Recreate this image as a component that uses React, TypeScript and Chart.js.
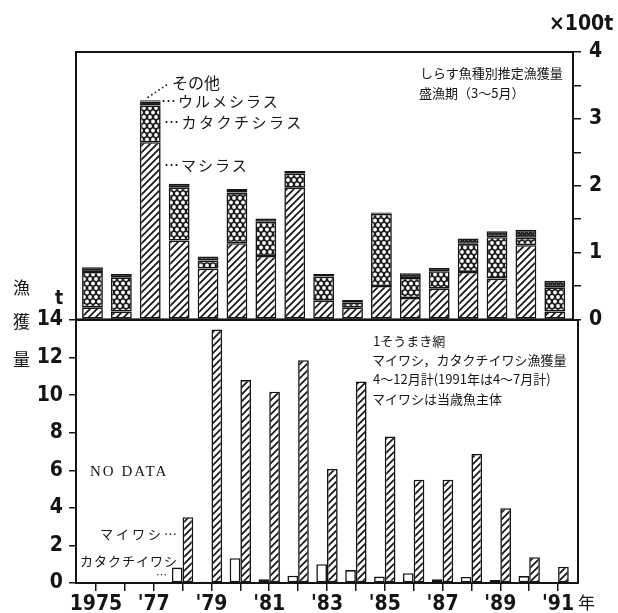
import React, { useEffect, useRef } from 'react';
import { Chart, registerables } from 'chart.js';

Chart.register(...registerables);

// ---- data ----
const years = [1975, 1976, 1977, 1978, 1979, 1980, 1981, 1982, 1983, 1984, 1985, 1986, 1987, 1988, 1989, 1990, 1991];

// 上段: しらす魚種別推定漁獲量 盛漁期（3～5月） (×100t)
const mashirasu = [0.18, 0.12, 2.65, 1.18, 0.76, 1.14, 0.95, 1.97, 0.28, 0.18, 0.5, 0.32, 0.46, 0.71, 0.61, 1.11, 0.12];
const katakuchiShirasu = [0.53, 0.51, 0.55, 0.79, 0.12, 0.75, 0.51, 0.21, 0.36, 0.07, 1.08, 0.3, 0.26, 0.42, 0.62, 0.11, 0.36];
const urumeShirasu = [0.07, 0.05, 0.06, 0.06, 0.06, 0.01, 0.05, 0.04, 0.04, 0.04, 0.02, 0.07, 0.05, 0.08, 0.09, 0.12, 0.1];
const sonota = [null, null, 0.02, null, null, 0.05, null, null, null, null, null, null, null, null, null, null, null];

// 下段: 1そうまき網 マイワシ・カタクチイワシ漁獲量 (t)
const katakuchiIwashi = [null, null, null, 0.82, 0.07, 1.32, 0.2, 0.39, 1.0, 0.69, 0.34, 0.52, 0.2, 0.32, 0.16, 0.37, 0.03];
const maiwashi = [null, null, null, 3.5, 13.5, 10.8, 10.18, 11.86, 6.07, 10.73, 7.8, 5.5, 5.5, 6.87, 3.98, 1.37, 0.87];

const xTickYears = [1975, 1977, 1979, 1981, 1983, 1985, 1987, 1989, 1991];
const xTickTexts = ['1975', "'77", "'79", "'81", "'83", "'85", "'87", "'89", "'91"];

const NARROW = "'Liberation Sans Narrow', 'DejaVu Sans Condensed', 'Arial Narrow', sans-serif";
const JP = "'Noto Sans CJK JP', sans-serif";
const INK = '#151515';

function hatchPattern(): CanvasPattern | string {
  const s = 7;
  const c = document.createElement('canvas');
  c.width = s; c.height = s;
  const g = c.getContext('2d');
  if (!g) return '#999';
  g.fillStyle = '#fff';
  g.fillRect(0, 0, s, s);
  g.strokeStyle = INK;
  g.lineWidth = 1.7;
  g.beginPath();
  g.moveTo(-1, s + 1); g.lineTo(s + 1, -1);
  g.moveTo(-s / 2 - 1, s / 2 + 1); g.lineTo(s / 2 + 1, -s / 2 - 1);
  g.moveTo(s / 2 - 1, s * 1.5 + 1); g.lineTo(s * 1.5 + 1, s / 2 - 1);
  g.stroke();
  return g.createPattern(c, 'repeat') || '#999';
}

function circlePattern(): CanvasPattern | string {
  const w = 6, h = 9;
  const c = document.createElement('canvas');
  c.width = w; c.height = h;
  const g = c.getContext('2d');
  if (!g) return '#777';
  g.fillStyle = '#1c1c1c';
  g.fillRect(0, 0, w, h);
  g.fillStyle = '#fff';
  const pts = [[0, 0], [w, 0], [0, h], [w, h], [w / 2, h / 2]];
  for (const [px, py] of pts) {
    g.beginPath();
    g.arc(px, py, 1.9, 0, Math.PI * 2);
    g.fill();
  }
  return g.createPattern(c, 'repeat') || '#777';
}

function darkPattern(): CanvasPattern | string {
  const s = 4;
  const c = document.createElement('canvas');
  c.width = s; c.height = s;
  const g = c.getContext('2d');
  if (!g) return '#333';
  g.fillStyle = '#222';
  g.fillRect(0, 0, s, s);
  g.fillStyle = '#7a7a7a';
  g.fillRect(0, 0, 1, 1);
  g.fillRect(2, 2, 1, 1);
  return g.createPattern(c, 'repeat') || '#333';
}

const framePlugin = {
  id: 'frame',
  afterDraw(chart: any) {
    const { ctx, chartArea } = chart;
    const { left, top, right, bottom } = chartArea;
    ctx.save();
    ctx.strokeStyle = INK;
    ctx.lineWidth = 2;
    ctx.strokeRect(left, top, right - left, bottom - top);
    ctx.restore();
  },
};

const leaderPlugin = {
  id: 'leader',
  afterDraw(chart: any) {
    const xs = chart.scales.x;
    const ys = chart.scales.y;
    const i = years.indexOf(1977);
    const total = (mashirasu[i] || 0) + (katakuchiShirasu[i] || 0) + (urumeShirasu[i] || 0) + (sonota[i] || 0);
    const cx = xs.getPixelForValue(1977);
    const cy = ys.getPixelForValue(total);
    const ctx = chart.ctx;
    ctx.save();
    ctx.fillStyle = INK;
    for (let k = 0; k < 6; k++) {
      ctx.beginPath();
      ctx.arc(cx - 2 + k * 3.6, cy - 3 - k * 2.4, 0.9, 0, Math.PI * 2);
      ctx.fill();
    }
    ctx.restore();
  },
};

const tickFont = (size: number) => ({ family: NARROW, size, weight: 'bold' as const });

function Txt({ x, y, children, style }: { x: number; y: number; children: React.ReactNode; style?: React.CSSProperties }) {
  return (
    <div
      style={{
        position: 'absolute',
        left: x,
        top: y,
        transform: 'translateY(-50%)',
        whiteSpace: 'nowrap',
        lineHeight: 1,
        color: INK,
        fontFamily: JP,
        fontSize: 13,
        ...style,
      }}
    >
      {children}
    </div>
  );
}

export default function App() {
  const topRef = useRef<HTMLCanvasElement>(null);
  const botRef = useRef<HTMLCanvasElement>(null);

  useEffect(() => {
    if (!topRef.current || !botRef.current) return;
    const hatch = hatchPattern();
    const circles = circlePattern();
    const dark = darkPattern();
    const barBase = { borderColor: INK, borderWidth: 1.6, borderSkipped: false as const };

    const top = new Chart(topRef.current, {
      type: 'bar',
      data: {
        labels: years,
        datasets: [
          { label: 'マシラス', data: mashirasu, backgroundColor: hatch, ...barBase },
          { label: 'カタクチシラス', data: katakuchiShirasu, backgroundColor: circles, ...barBase },
          { label: 'ウルメシラス', data: urumeShirasu, backgroundColor: dark, ...barBase },
          { label: 'その他', data: sonota, backgroundColor: '#fff', ...barBase },
        ],
      },
      options: {
        animation: false,
        responsive: false,
        devicePixelRatio: 1,
        layout: { padding: { left: 76, top: 52, right: 0, bottom: 20 } },
        plugins: { legend: { display: false }, tooltip: { enabled: false } },
        datasets: { bar: { categoryPercentage: 0.72, barPercentage: 1 } },
        scales: {
          x: {
            type: 'linear',
            stacked: true,
            min: 1974.43,
            max: 1991.63,
            offset: false,
            display: false,
            ticks: { stepSize: 1, includeBounds: false },
          },
          y: {
            type: 'linear',
            position: 'right',
            stacked: true,
            min: 0,
            max: 4,
            ticks: {
              stepSize: 0.5,
              color: INK,
              padding: 8,
              font: tickFont(21),
              callback: (v: any) => (Number.isInteger(v) ? String(v) : ''),
            },
            grid: { drawOnChartArea: false, tickLength: 8, color: INK, lineWidth: 1.5 },
            border: { display: true, color: INK, width: 2 },
            afterFit: (s: any) => { s.width = 45; },
          },
        },
      } as any,
      plugins: [framePlugin, leaderPlugin],
    });

    const bot = new Chart(botRef.current, {
      type: 'bar',
      data: {
        labels: years,
        datasets: [
          { label: 'カタクチイワシ', data: katakuchiIwashi, backgroundColor: '#fff', ...barBase },
          { label: 'マイワシ', data: maiwashi, backgroundColor: hatch, ...barBase },
        ],
      },
      options: {
        animation: false,
        responsive: false,
        devicePixelRatio: 1,
        layout: { padding: { left: 0, top: 20, right: 40, bottom: 0 } },
        plugins: { legend: { display: false }, tooltip: { enabled: false } },
        datasets: { bar: { categoryPercentage: 0.74, barPercentage: 1 } },
        scales: {
          x: {
            type: 'linear',
            min: 1974.31,
            max: 1991.69,
            offset: false,
            ticks: {
              stepSize: 1,
              includeBounds: false,
              autoSkip: false,
              maxRotation: 0,
              minRotation: 0,
              padding: 1,
              color: INK,
              font: tickFont(21),
              callback: (v: any) => {
                const k = xTickYears.indexOf(Math.round(v));
                return k >= 0 ? xTickTexts[k] : '';
              },
            },
            grid: { drawOnChartArea: false, tickLength: 8, color: INK, lineWidth: 1.5, offset: false },
            border: { display: true, color: INK, width: 2 },
            afterFit: (s: any) => { s.height = 30; },
          },
          y: {
            type: 'linear',
            min: 0,
            max: 14,
            ticks: {
              stepSize: 1,
              color: INK,
              padding: 6,
              font: tickFont(21),
              callback: (v: any) => (v % 2 === 0 ? String(v) : ''),
            },
            grid: { drawOnChartArea: false, tickLength: 7, color: INK, lineWidth: 1.5 },
            border: { display: true, color: INK, width: 2 },
            afterFit: (s: any) => { s.width = 76; },
          },
        },
      } as any,
      plugins: [framePlugin],
    });

    return () => {
      top.destroy();
      bot.destroy();
    };
  }, []);

  return (
    <div style={{ position: 'absolute', left: 0, top: 0, width: 618, height: 613, background: '#fff', overflow: 'hidden' }}>
      <canvas ref={topRef} width={618} height={340} style={{ position: 'absolute', left: 0, top: 0, width: 618, height: 340 }} />
      <canvas ref={botRef} width={618} height={313} style={{ position: 'absolute', left: 0, top: 300, width: 618, height: 313 }} />

      <Txt x={549} y={23} style={{ fontFamily: NARROW, fontWeight: 'bold', fontSize: 21 }}>×100t</Txt>
      <Txt x={420} y={72}>しらす魚種別推定漁獲量</Txt>
      <Txt x={419} y={92}>盛漁期（3～5月）</Txt>

      <Txt x={172} y={82} style={{ fontSize: 16 }}>その他</Txt>
      <Txt x={161} y={100} style={{ fontSize: 15, letterSpacing: 2 }}>…ウルメシラス</Txt>
      <Txt x={164} y={121} style={{ fontSize: 15, letterSpacing: 2.5 }}>…カタクチシラス</Txt>
      <Txt x={164} y={164} style={{ fontSize: 15, letterSpacing: 2 }}>…マシラス</Txt>

      <Txt x={13} y={286} style={{ fontSize: 17 }}>漁</Txt>
      <Txt x={13} y={320} style={{ fontSize: 17 }}>獲</Txt>
      <Txt x={13} y={358} style={{ fontSize: 17 }}>量</Txt>
      <Txt x={55} y={297} style={{ fontFamily: NARROW, fontWeight: 'bold', fontSize: 19 }}>t</Txt>

      <Txt x={90} y={471} style={{ fontFamily: "'Liberation Serif', serif", fontSize: 15, letterSpacing: 2 }}>NO DATA</Txt>
      <Txt x={100} y={533} style={{ letterSpacing: 3 }}>マイワシ…</Txt>
      <Txt x={80} y={560} style={{ letterSpacing: 1 }}>カタクチイワシ</Txt>
      <Txt x={156} y={574} style={{ fontSize: 11 }}>…</Txt>

      <Txt x={373} y={340}>1そうまき網</Txt>
      <Txt x={372} y={359}>マイワシ，カタクチイワシ漁獲量</Txt>
      <Txt x={373} y={378}>4～12月計(1991年は4～7月計)</Txt>
      <Txt x={372} y={398}>マイワシは当歳魚主体</Txt>

      <Txt x={578} y={601} style={{ fontSize: 17 }}>年</Txt>
    </div>
  );
}
